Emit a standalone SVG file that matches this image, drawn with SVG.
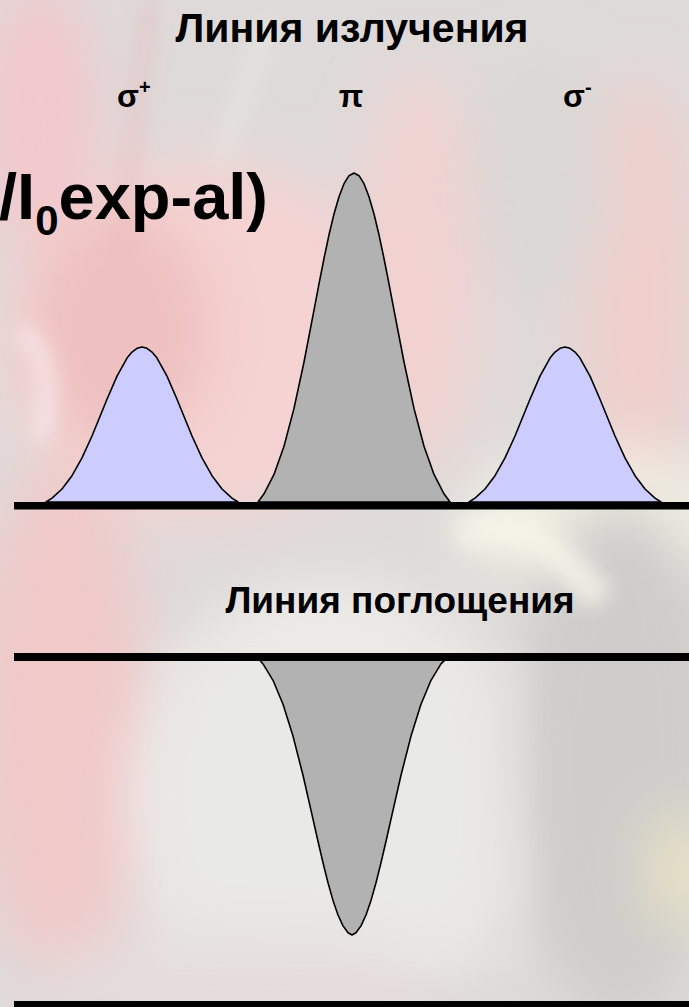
<svg xmlns="http://www.w3.org/2000/svg" width="689" height="1007" viewBox="0 0 689 1007">
<defs>
<style>
.t{font-family:"Liberation Sans",Arial,sans-serif;font-weight:bold;fill:#000}
.blue{fill:#ccccff;stroke:#000;stroke-width:1.6;stroke-linejoin:round}
.grey{fill:#b2b2b2;stroke:#000;stroke-width:1.6;stroke-linejoin:round}
.axis{fill:#000}
</style>
<filter id="blur" x="-50%" y="-50%" width="200%" height="200%"><feGaussianBlur stdDeviation="28"/></filter>
<filter id="blur2" x="-50%" y="-50%" width="200%" height="200%"><feGaussianBlur stdDeviation="10"/></filter>
<pattern id="stripes" width="14" height="14" patternUnits="userSpaceOnUse" patternTransform="rotate(-35)">
<rect width="14" height="14" fill="#ebebe8"/><rect width="14" height="5" fill="#dcdcd6"/>
</pattern>
</defs>
<g id="background">
<rect width="689" height="1007" fill="#dedad9"/>
<g filter="url(#blur)">
<ellipse cx="40" cy="120" rx="60" ry="140" fill="#f2c8cc"/>
<ellipse cx="200" cy="340" rx="200" ry="180" fill="#f4d3d2"/>
<ellipse cx="120" cy="330" rx="90" ry="120" fill="#efc0c0"/>
<ellipse cx="420" cy="270" rx="60" ry="200" fill="#f1d2d0"/>
<ellipse cx="640" cy="300" rx="60" ry="220" fill="#efcfcc"/>
<ellipse cx="540" cy="180" rx="70" ry="120" fill="#d9d8d6"/>
<ellipse cx="600" cy="520" rx="140" ry="70" fill="#f2f0e4"/>
<ellipse cx="60" cy="720" rx="90" ry="260" fill="#f0c9c9"/>
<ellipse cx="330" cy="800" rx="200" ry="220" fill="#ecebe8"/>
<ellipse cx="620" cy="760" rx="110" ry="260" fill="#cfcdcb"/>
<ellipse cx="680" cy="870" rx="30" ry="60" fill="#e9e4c4"/>
<ellipse cx="240" cy="980" rx="200" ry="50" fill="#e5dcdc"/>
</g>
<g filter="url(#blur2)" opacity="0.8">
<path d="M150 0 L120 260" stroke="#e9b8bb" stroke-width="10" fill="none"/>
<path d="M270 20 L220 160" stroke="#e8e8e2" stroke-width="14" fill="none"/>
<path d="M20 330 Q60 360 40 440" stroke="#f8f0f0" stroke-width="16" fill="none"/>
<path d="M460 540 Q520 500 600 600" stroke="#f6f6ea" stroke-width="30" fill="none"/>
</g>
<rect x="150" y="640" width="380" height="330" fill="url(#stripes)" opacity="0.35" filter="url(#blur2)"/>
</g>
<g id="title"><text class="t" x="352" y="42" font-size="41" text-anchor="middle">Линия излучения</text></g>
<g id="label-sigma-plus"><text class="t" x="117" y="107" font-size="32">σ<tspan font-size="20" dy="-13">+</tspan></text></g>
<g id="label-pi"><text class="t" x="351" y="107" font-size="32" text-anchor="middle">π</text></g>
<g id="label-sigma-minus"><text class="t" x="563" y="107" font-size="32">σ<tspan font-size="20" dy="-13">-</tspan></text></g>
<g id="formula"><text class="t" x="-1" y="219" font-size="65">/I<tspan font-size="42" dy="16">0</tspan><tspan dy="-16">exp-al)</tspan></text></g>
<g id="peak-sigma-plus">
<path class="blue" d="M46,502 L52,498.1 L62,489 L72,475.7 L82,457.9 L92,436 L107,399.2 L117,376.1 L127,358.1 L132,352.1 L137,348.3 L142,347 L147,348.3 L152,352.1 L157,358.1 L167,376.1 L177,399.2 L192,436 L202,457.9 L212,475.7 L222,489 L232,498.1 L238,502 Z"/>
</g>
<g id="peak-pi">
<path class="grey" d="M258,502 L264,493.8 L274,474.4 L284,446.2 L294,408.4 L304,362 L314,310.2 L319,283.9 L324,258.5 L329,234.8 L334,214 L339,196.7 L344,183.7 L349,175.7 L354,173 L359,175.7 L364,183.7 L369,196.7 L374,214 L379,234.8 L384,258.5 L389,283.9 L394,310.2 L404,362 L414,408.4 L424,446.2 L434,474.4 L444,493.8 L450,502 Z"/>
</g>
<g id="peak-sigma-minus">
<path class="blue" d="M469,502 L475,498.1 L485,489 L495,475.7 L505,457.9 L515,436 L530,399.2 L540,376.1 L550,358.1 L555,352.1 L560,348.3 L565,347 L570,348.3 L575,352.1 L580,358.1 L590,376.1 L600,399.2 L615,436 L625,457.9 L635,475.7 L645,489 L655,498.1 L661,502 Z"/>
</g>
<g id="emission-axis"><rect class="axis" x="14" y="502" width="675" height="7.5"/></g>
<g id="absorption-title"><text class="t" x="400" y="613" font-size="37" text-anchor="middle">Линия поглощения</text></g>
<g id="absorption-peak">
<path class="grey" d="M257,657 L263,663.9 L273,680.3 L283,704.2 L293,736.1 L303,775.3 L313,819.1 L318,841.3 L323,862.8 L328,882.8 L333,900.4 L338,915 L343,925.9 L348,932.7 L352,935 L356,932.7 L361,925.9 L366,915 L371,900.4 L376,882.8 L381,862.8 L386,841.3 L391,819.1 L401,775.3 L411,736.1 L421,704.2 L431,680.3 L441,663.9 L448,657 Z"/>
</g>
<g id="absorption-axis"><rect class="axis" x="14" y="653" width="675" height="8"/></g>
<g id="bottom-axis"><rect class="axis" x="14" y="1001" width="675" height="8"/></g>
</svg>
